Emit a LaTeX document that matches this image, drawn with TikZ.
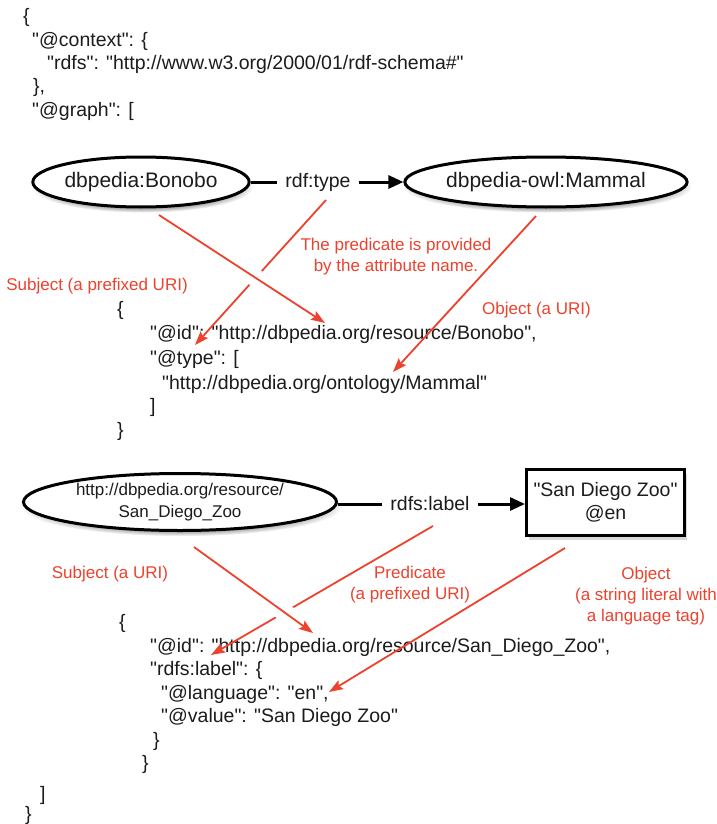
\documentclass[tikz,border=0pt]{standalone}
\usepackage{fontspec}
\setmainfont{Liberation Sans}[Ligatures=TeXOff]
\usetikzlibrary{arrows.meta,shapes.geometric,shadows,calc}
\definecolor{annot}{RGB}{236,66,46}
\definecolor{ink}{RGB}{28,28,28}

\begin{document}
\begin{tikzpicture}[x=1pt,y=-1pt,
  code/.style={anchor=base west, inner sep=0pt, text=ink,
    font=\fontsize{19.5}{23.5}\selectfont},
  note/.style={text=annot, align=center, inner sep=0pt,
    font=\fontsize{17}{21}\selectfont},
  resource/.style={ellipse, draw=black, line width=3pt, fill=white,
    inner sep=0pt, text=ink,
    circular drop shadow={shadow xshift=1.5pt, shadow yshift=-5pt,
      shadow scale=1.02, opacity=0.6}},
  literal/.style={rectangle, draw=black, line width=3pt, fill=white,
    inner sep=0pt, text=ink, align=center,
    font=\fontsize{19.5}{23}\selectfont,
    drop shadow={shadow xshift=2pt, shadow yshift=-4pt, opacity=0.3}},
  edgelabel/.style={text=ink, inner xsep=8pt, inner ysep=2pt,
    font=\fontsize{19.5}{23}\selectfont},
  plain/.style={draw=black, line width=3pt},
  rel/.style={plain, -{Triangle[length=15pt,width=13pt]}},
  pointer/.style={draw=annot, line width=1.8pt,
    -{Stealth[length=14pt,width=10pt,inset=2.5pt]}},
  halo/.style={draw=white, line width=18pt}
]
\useasboundingbox (0,0) rectangle (716,824);
\fill[white] (0,0) rectangle (716,824);

% ---- JSON-LD wrapper ----
\node[code] (c0) at (23,23)  {\{};
\node[code] (c1) at (32,47)  {"@context": \{};
\node[code] (c2) at (47,70)  {"rdfs": "http://www.w3.org/2000/01/rdf-schema\#"};
\node[code] (c3) at (33,93)  {\},};
\node[code] (c4) at (32,117) {"@graph": [};

% ---- first triple: type statement ----
\node[resource, minimum width=205pt, minimum height=50pt,
  font=\fontsize{21}{24}\selectfont] (bonobo) at (141,182) {dbpedia:Bonobo};
\node[resource, minimum width=279pt, minimum height=50pt,
  font=\fontsize{21}{24}\selectfont] (mammal) at (546,182) {dbpedia-owl:Mammal};
\node[edgelabel] (rdftype) at (318,182) {rdf:type};
\draw[plain] (bonobo) -- (rdftype);
\draw[rel] (rdftype) -- (mammal);

\node[code] (b0) at (117,315) {\{};
\node[code] (b1) at (150,339) {"@id": "http://dbpedia.org/resource/Bonobo",};
\node[code] (b2) at (150,364) {"@type": [};
\node[code] (b3) at (162,389) {"http://dbpedia.org/ontology/Mammal"};
\node[code] (b4) at (150,412) {]};
\node[code] (b5) at (117,436) {\}};

\node[note] (subj1) at (97,286) {Subject (a prefixed URI)};
\node[note] (pred1) at (396,257) {The predicate is provided\\by the attribute name.};
\node[note, anchor=west] (obj1) at (482,310) {Object (a URI)};

\coordinate (p1s) at (326,200);
\coordinate (p1e) at (195,345);
\coordinate (s1s) at (159,215);
\coordinate (s1e) at (325,323);
\coordinate (o1s) at (536,216);
\coordinate (o1e) at (393,372);
\draw[pointer] (p1s) -- (p1e);
\draw[halo] ($(s1s)!0.55!(s1e)$) -- ($(s1s)!0.63!(s1e)$);
\draw[pointer] (s1s) -- (s1e);
\draw[pointer] (o1s) -- (o1e);

% ---- second triple: language-tagged label ----
\node[resource, minimum width=313pt, minimum height=57pt, align=center,
  font=\fontsize{17}{22}\selectfont] (zoo) at (180,502)
  {http://dbpedia.org/resource/\\San\_Diego\_Zoo};
\node[literal, minimum width=158pt, minimum height=66pt] (lit) at (605.5,502.5)
  {"San Diego Zoo"\\@en};
\node[edgelabel] (rdfslabel) at (430,504) {rdfs:label};
\draw[plain] (zoo.east |- rdfslabel) -- (rdfslabel);
\draw[rel] (rdfslabel) -- (rdfslabel -| lit.west);

\node[code] (d0) at (119,628) {\{};
\node[code] (d1) at (150,652) {"@id": "http://dbpedia.org/resource/San\_Diego\_Zoo",};
\node[code] (d2) at (150,675) {"rdfs:label": \{};
\node[code] (d3) at (161,699) {"@language": "en",};
\node[code] (d4) at (161,722) {"@value": "San Diego Zoo"};
\node[code] (d5) at (153,746) {\}};
\node[code] (d6) at (142,769) {\}};
\node[code] (d7) at (40,800)  {]};
\node[code] (d8) at (25,820)  {\}};

\node[note] (subj2) at (110,574) {Subject (a URI)};
\node[note] (pred2) at (410,585) {Predicate\\(a prefixed URI)};
\node[note] (obj2) at (646,596) {Object\\(a string literal with\\a language tag)};

\coordinate (p2s) at (433,526);
\coordinate (p2e) at (211,655);
\coordinate (s2s) at (194,547);
\coordinate (s2e) at (313,633);
\coordinate (o2s) at (565,548);
\coordinate (o2e) at (329,692);
\draw[pointer] (p2s) -- (p2e);
\draw[halo] ($(s2s)!0.71!(s2e)$) -- ($(s2s)!0.80!(s2e)$);
\draw[pointer] (s2s) -- (s2e);
\draw[pointer] (o2s) -- (o2e);
\end{tikzpicture}
\end{document}
